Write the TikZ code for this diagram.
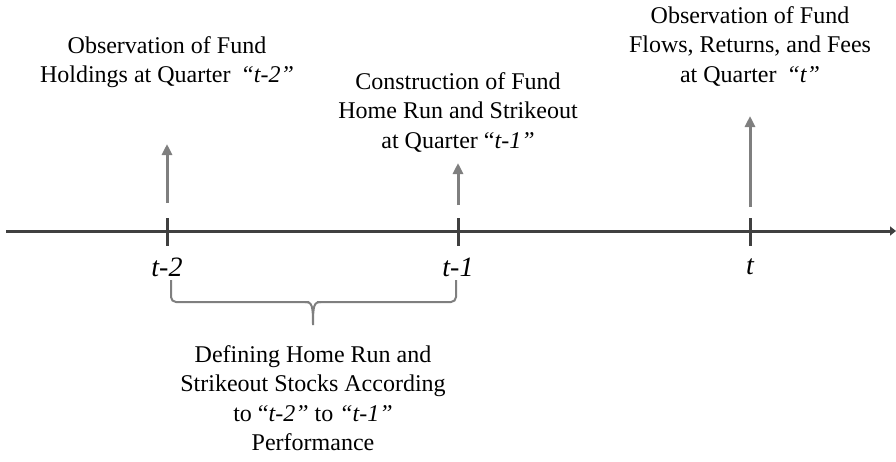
\documentclass[tikz,border=0pt]{standalone}
\usepackage{fontspec}
\setmainfont{Liberation Serif}
\usetikzlibrary{arrows.meta}
\definecolor{axisc}{HTML}{404040}
\definecolor{arrc}{HTML}{7F7F7F}
\tikzset{
  axisline/.style={line width=3pt, color=axisc},
  upar/.style={line width=3pt, color=arrc, -{Triangle[length=11pt,width=10pt]}},
  lbl/.style={align=center, font=\fontsize{24}{29.5}\selectfont, inner sep=0pt},
  tlbl/.style={font=\fontsize{28}{30}\selectfont\itshape, inner sep=0pt},
  bracec/.style={line width=2pt, color=arrc, rounded corners=5pt}
}
\begin{document}
\begin{tikzpicture}[x=1pt,y=-1pt]
\useasboundingbox (0,0) rectangle (896,461);
% axis
\coordinate (a0) at (6,231);
\coordinate (a1) at (896,231);
\draw[axisline, -{Triangle[length=6pt,width=9pt]}] (a0) -- (a1);
% ticks
\foreach \n/\x in {k2/167, k1/458, k0/750} {
  \coordinate (\n t) at (\x,218);
  \coordinate (\n b) at (\x,246);
  \draw[axisline] (\n t) -- (\n b);
}
% arrows
\coordinate (p2) at (167,203);
\coordinate (q2) at (167,144);
\coordinate (p1) at (458,205);
\coordinate (q1) at (458,163);
\coordinate (p0) at (750,207);
\coordinate (q0) at (750,116);
\draw[upar] (p2) -- (q2);
\draw[upar] (p1) -- (q1);
\draw[upar] (p0) -- (q0);
% tick labels
\node[tlbl] (l2) at (167,267) {t-2};
\node[tlbl] (l1) at (458,267) {t-1};
\node[tlbl] (l0) at (750,267) {t};
% top texts
\node[lbl, anchor=center] (obs1) at (167,62) {Observation of Fund\\Holdings at Quarter \,\textit{“t-2”}};
\node[lbl, anchor=center] (cons) at (458,112) {Construction of Fund\\Home Run and Strikeout\\at Quarter “\textit{t-1”}};
\node[lbl, anchor=center] (obs0) at (750,46) {Observation of Fund\\Flows, Returns, and Fees\\at Quarter \,\textit{“t”}};
% brace
\coordinate (b0) at (171,280);
\coordinate (b1) at (456,280);
\coordinate (bm) at (313,325);
\draw[bracec] (b0) -- (171,302) -- (309,302);
\draw[bracec] (b1) -- (456,302) -- (317,302);
\draw[line width=2pt, color=arrc] (305,302) .. controls (312,302) and (313,305) .. (bm) .. controls (313,305) and (314,302) .. (321,302);
% bottom text
\node[lbl] (def) at (313,398) {Defining Home Run and\\Strikeout Stocks According\\to “\textit{t-2”} to \textit{“t-1”}\\Performance};
\end{tikzpicture}
\end{document}
